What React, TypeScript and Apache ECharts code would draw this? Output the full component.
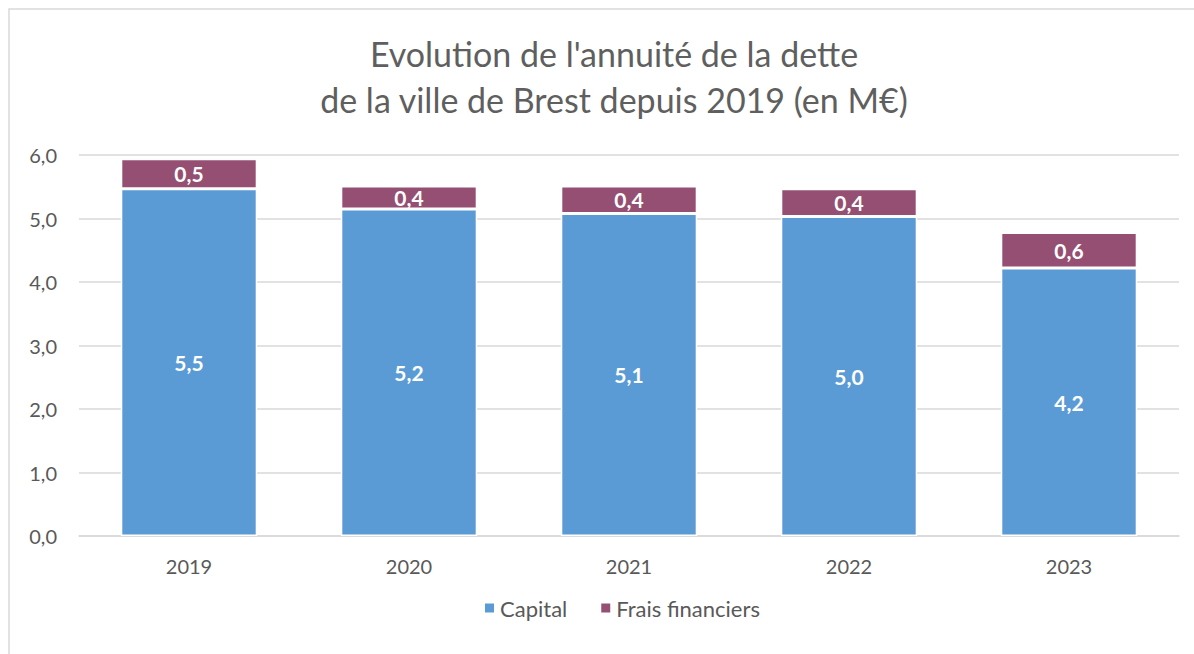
import React, { useEffect, useRef } from "react";
import * as echarts from "echarts";

const categories = ["2019", "2020", "2021", "2022", "2023"];
const capital = [5.47, 5.15, 5.08, 5.03, 4.22];
const frais = [0.47, 0.36, 0.43, 0.44, 0.56];
const yTicks = [0, 1, 2, 3, 4, 5, 6];

const FONT = "Lato, 'Open Sans', sans-serif";
const fmt = (v: number) => v.toFixed(1).replace(".", ",");

export default function App() {
  const ref = useRef<HTMLDivElement>(null);
  useEffect(() => {
    if (!ref.current) return;
    const chart = echarts.init(ref.current, null, { renderer: "svg" });
    chart.setOption({
      animation: false,
      backgroundColor: "#ffffff",
      title: {
        text: "Evolution de l'annuité de la dette\nde la ville de Brest depuis 2019 (en M€)",
        left: 609,
        textAlign: "center",
        top: 25,
        textStyle: {
          fontFamily: FONT,
          fontSize: 34,
          fontWeight: "normal",
          color: "#5f5f5f",
          lineHeight: 46,
        },
      },
      graphic: [
        {
          type: "rect",
          shape: { x: 9, y: 9, width: 1200, height: 700 },
          style: { fill: "none", stroke: "#d9d9d9", lineWidth: 1.5 },
          silent: true,
        },
      ],
      legend: {
        bottom: 30,
        left: 478,
        itemWidth: 11,
        itemHeight: 11,
        itemGap: 32,
        icon: "rect",
        textStyle: { fontFamily: FONT, fontSize: 22, color: "#595959" },
        data: ["Capital", "Frais financiers"],
      },
      grid: { left: 79, right: 15, top: 155, bottom: 118 },
      xAxis: {
        type: "category",
        data: categories,
        axisTick: { show: false },
        axisLine: { lineStyle: { color: "#d9d9d9", width: 1.5 } },
        axisLabel: {
          fontFamily: FONT,
          fontSize: 20,
          color: "#595959",
          margin: 20,
        },
      },
      yAxis: {
        type: "value",
        min: yTicks[0],
        max: yTicks[yTicks.length - 1],
        interval: 1,
        axisLine: { show: false },
        axisTick: { show: false },
        splitLine: { lineStyle: { color: "#d9d9d9", width: 1.5 } },
        axisLabel: {
          fontFamily: FONT,
          fontSize: 20,
          color: "#595959",
          margin: 22,
          formatter: (v: number) => fmt(v),
        },
      },
      series: [
        {
          name: "Capital",
          type: "bar",
          stack: "total",
          data: capital,
          barWidth: "62%",
          itemStyle: { color: "#5b9bd5", borderColor: "#ffffff", borderWidth: 1.5 },
          label: {
            show: true,
            position: "inside",
            fontFamily: FONT,
            fontSize: 21,
            fontWeight: "bold",
            color: "#ffffff",
            formatter: (p: any) => fmt(p.value),
          },
        },
        {
          name: "Frais financiers",
          type: "bar",
          stack: "total",
          data: frais,
          barWidth: "62%",
          itemStyle: { color: "#954f72", borderColor: "#ffffff", borderWidth: 1.5 },
          label: {
            show: true,
            position: "inside",
            fontFamily: FONT,
            fontSize: 21,
            fontWeight: "bold",
            color: "#ffffff",
            formatter: (p: any) => fmt(p.value),
          },
        },
      ],
    });
    return () => chart.dispose();
  }, []);
  return (
    <div
      ref={ref}
      style={{ position: "fixed", left: 0, top: 0, width: 1194, height: 654 }}
    />
  );
}
